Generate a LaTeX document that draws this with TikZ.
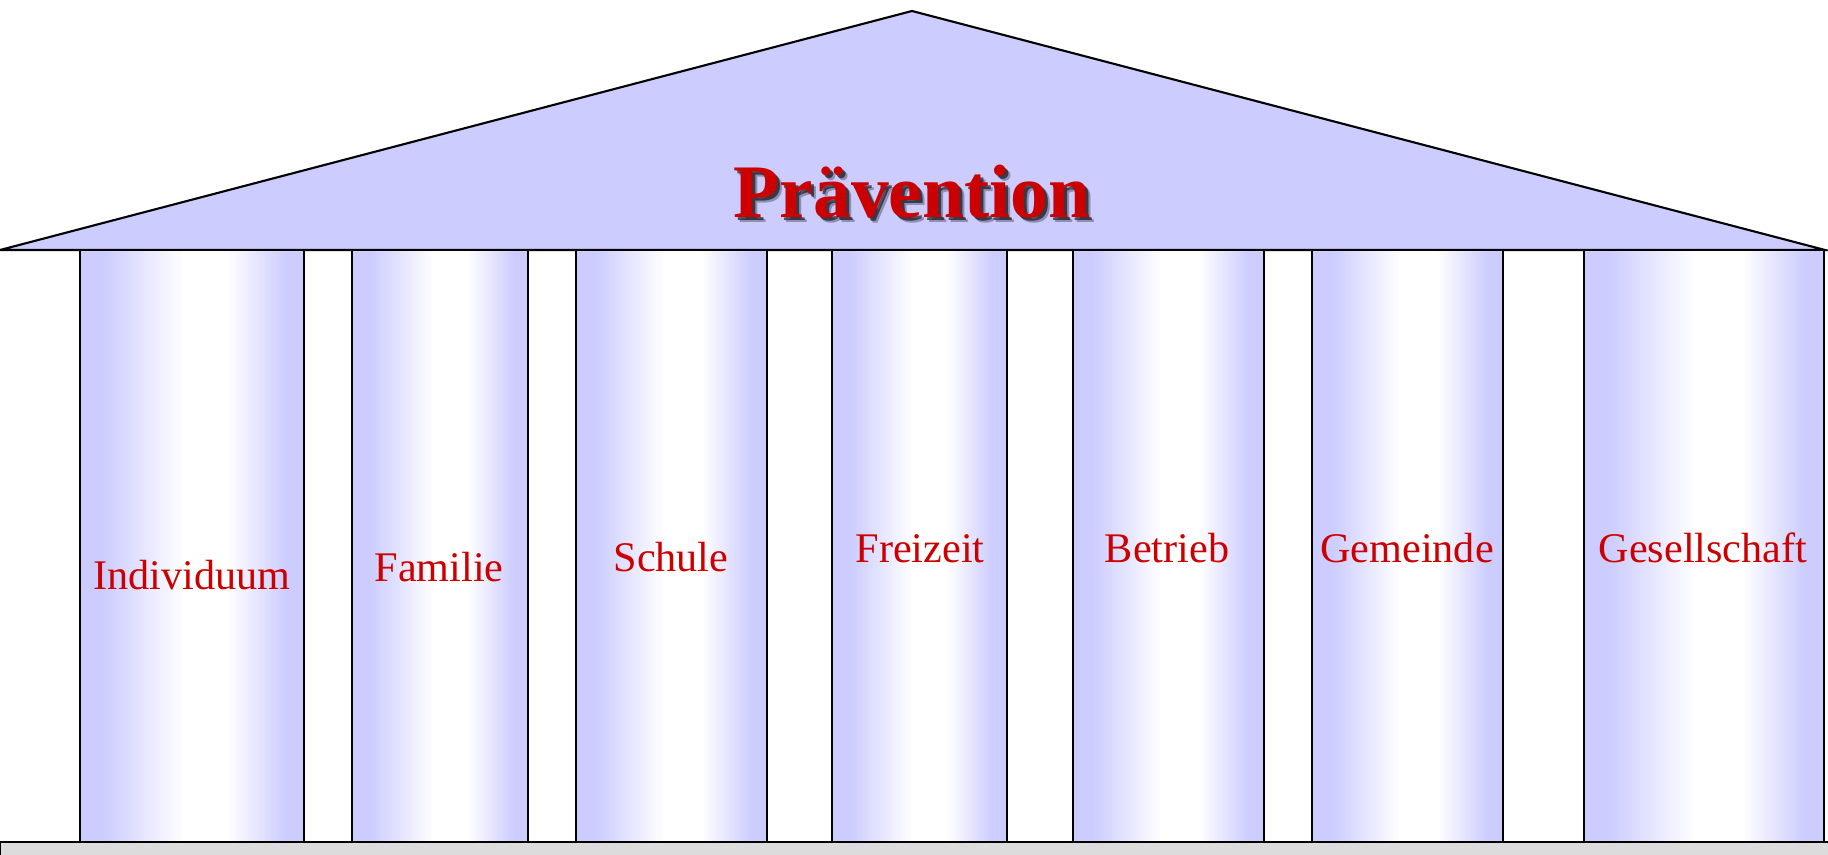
\documentclass[tikz,border=0pt]{standalone}
\usepackage{fontspec}
\setmainfont{Liberation Serif}
\definecolor{roofblue}{HTML}{CCCCFF}
\definecolor{pillarred}{HTML}{CC0000}
\definecolor{basegray}{HTML}{DCDCDC}

\begin{document}
\begin{tikzpicture}[x=0.01cm, y=-0.01cm,
  pillar/.style={draw=black, line width=0.6pt},
  pillarlabel/.style={text=pillarred, font=\fontsize{12}{14}\selectfont, anchor=base},
  titletext/.style={anchor=base, font=\fontsize{21.5}{24}\selectfont\bfseries}]
  \useasboundingbox (0,0) rectangle (1828,855);
  % base strip
  \fill[basegray] (0,842) rectangle (1828,855);
  \draw[line width=0.6pt] (0,855) -- (0,842) -- (1828,842);
  % roof
  \draw[fill=roofblue, line width=0.6pt] (0,250) -- (912,11) -- (1825,250) -- cycle;
  % title with soft shadow
  \node[titletext, text=black, opacity=0.3] (titleshade1) at (917,223) {Prävention};
  \node[titletext, text=black, opacity=0.6] (titleshade2) at (915,221) {Prävention};
  \node[titletext, text=pillarred] (title) at (912,218) {Prävention};
  % pillars: blue edges, white band a bit right of centre
  \foreach \l/\r in {80/304, 352/528, 576/767, 832/1007, 1073/1264, 1312/1503, 1584/1824} {
    \pgfmathsetmacro{\pxa}{\l+0.10*(\r-\l)}
    \pgfmathsetmacro{\pxb}{\l+0.46*(\r-\l)}
    \pgfmathsetmacro{\pxc}{\l+0.66*(\r-\l)}
    \pgfmathsetmacro{\pxd}{\l+0.92*(\r-\l)}
    \fill[roofblue] (\l,250) rectangle (\r,842);
    \shade[left color=roofblue, right color=white] (\pxa,250) rectangle (\pxb+1,842);
    \fill[white] (\pxb,250) rectangle (\pxc,842);
    \shade[left color=white, right color=roofblue] (\pxc-1,250) rectangle (\pxd,842);
    \draw[pillar] (\l,250) rectangle (\r,842);
  }
  % labels
  \node[pillarlabel] (individuum) at (192,589) {Individuum};
  \node[pillarlabel] (familie) at (439,581) {Familie};
  \node[pillarlabel] (schule) at (671,571) {Schule};
  \node[pillarlabel] (freizeit) at (920,562) {Freizeit};
  \node[pillarlabel] (betrieb) at (1167,562) {Betrieb};
  \node[pillarlabel] (gemeinde) at (1407,562) {Gemeinde};
  \node[pillarlabel] (gesellschaft) at (1703,562) {Gesellschaft};
\end{tikzpicture}
\end{document}
